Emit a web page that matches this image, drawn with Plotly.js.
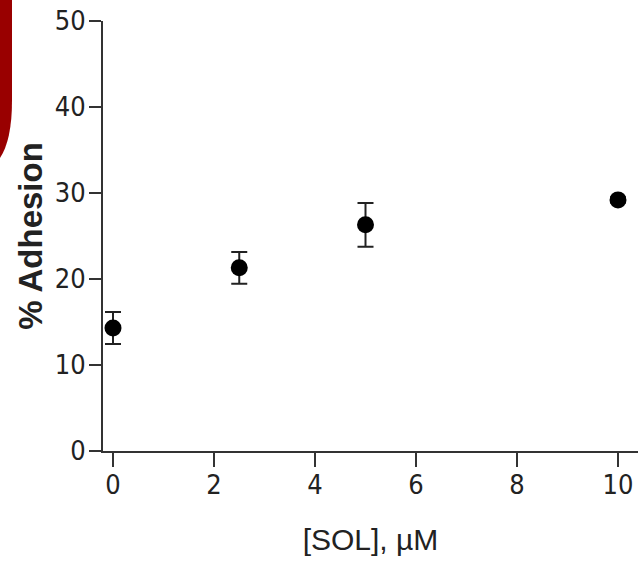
<!DOCTYPE html>
<html>
<head>
<meta charset="utf-8">
<script src="https://cdn.plot.ly/plotly-3.0.1.min.js"></script>
<style>
  html, body { margin: 0; padding: 0; background: #fff; }
  #chart { width: 638px; height: 562px; }
</style>
</head>
<body>
<div id="chart"></div>
<script>
// Data
const solConc = [0, 2.5, 5, 10];            // [SOL], µM
const adhesion = [14.3, 21.3, 26.3, 29.2];   // % Adhesion (mean)
const adhesionErr = [1.86, 1.84, 2.55, 0.3]; // error (±)
const yTicks = [0, 10, 20, 30, 40, 50];
const xTicks = [0, 2, 4, 6, 8, 10];

const W = 638, H = 562;
const M = { l: 103, r: 0, t: 21, b: 111 };
const plotW = W - M.l - M.r, plotH = H - M.t - M.b;
const px2paperX = p => (p - M.l) / plotW;
const px2paperY = p => (H - M.b - p) / plotH;

// decorative dark-red slide edge at top-left
const redPath = [
  ['M', -5, -5], ['L', 12, -5], ['L', 12, 100], ['Q', 12, 140, 0, 158], ['L', -5, 158]
].map(s => s[0] + (s.length === 3
  ? ` ${px2paperX(s[1])},${px2paperY(s[2])}`
  : ` ${px2paperX(s[1])},${px2paperY(s[2])} ${px2paperX(s[3])},${px2paperY(s[4])}`)).join(' ') + ' Z';

const tickFont = { family: 'DejaVu Sans Condensed, Liberation Sans Narrow, sans-serif', size: 27, color: '#222' };

const trace = {
  x: solConc, y: adhesion,
  type: 'scatter', mode: 'markers',
  cliponaxis: false,
  marker: { color: '#000', size: 17, symbol: 'circle' },
  error_y: { type: 'data', array: adhesionErr, visible: true, color: '#222', thickness: 2, width: 8 }
};

const layout = {
  width: W, height: H,
  margin: M,
  paper_bgcolor: '#fff', plot_bgcolor: '#fff',
  showlegend: false,
  xaxis: {
    range: [-10 / 50.5, 10 + 20 / 50.5],
    tickvals: xTicks, ticktext: xTicks.map(String),
    ticks: 'outside', ticklen: 14, tickwidth: 2, tickcolor: '#333',
    ticklabelstandoff: -5,
    showline: true, linewidth: 2, linecolor: '#333',
    showgrid: false, zeroline: false,
    tickfont: tickFont,
    title: { text: '[SOL], µM', font: { family: 'Liberation Sans, Arial, sans-serif', size: 30, color: '#222' }, standoff: 30 }
  },
  yaxis: {
    range: [0, 50],
    tickvals: yTicks, ticktext: yTicks.map(String),
    ticks: 'outside', ticklen: 12, tickwidth: 2, tickcolor: '#333',
    ticklabelstandoff: -2,
    showline: true, linewidth: 2, linecolor: '#333',
    showgrid: false, zeroline: false,
    tickfont: tickFont,
    title: { text: '<b>% Adhesion</b>', font: { family: 'Liberation Sans, Arial, sans-serif', size: 33, color: '#222' }, standoff: 2 }
  },
  shapes: [{
    type: 'path', xref: 'paper', yref: 'paper', path: redPath,
    fillcolor: '#990000', line: { width: 0 }, layer: 'below'
  }]
};

Plotly.newPlot('chart', [trace], layout, { displayModeBar: false, staticPlot: true });
</script>
</body>
</html>
